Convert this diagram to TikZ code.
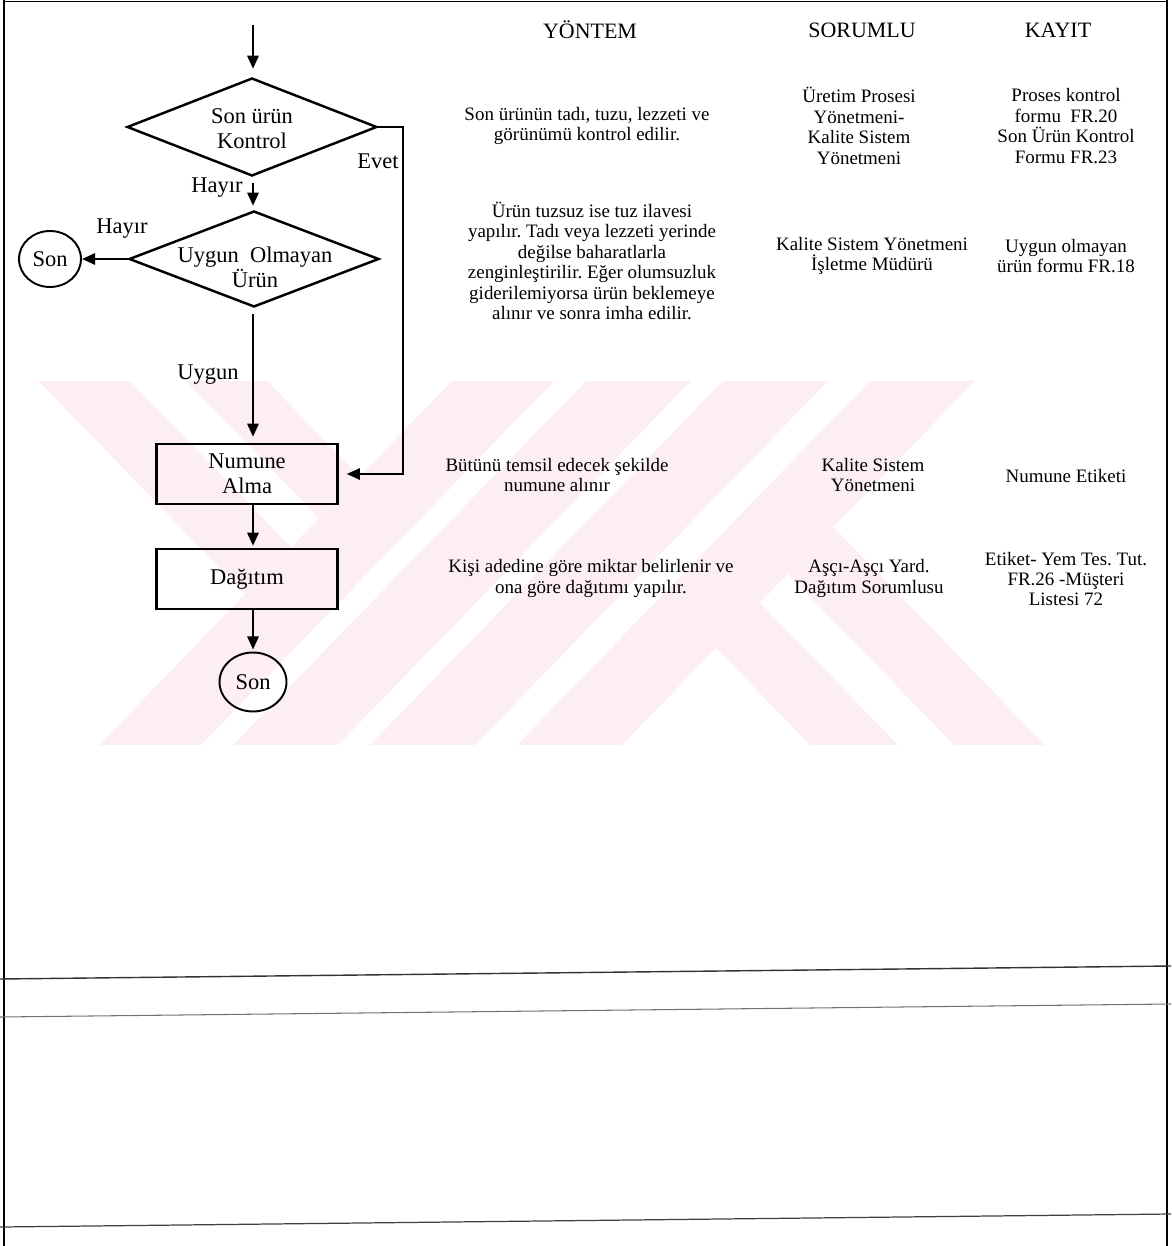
\documentclass[tikz,border=0pt]{standalone}
\usepackage{fontspec}
\setmainfont{Liberation Serif}
\usetikzlibrary{arrows.meta,shapes.geometric,calc}
\definecolor{wm}{RGB}{253,238,241}
\frenchspacing
\begin{document}
\begin{tikzpicture}[x=0.02cm,y=-0.02cm,
  arr/.style={line width=1.4pt,-{Triangle[length=7.5pt,width=6.4pt]}},
  dia/.style={diamond,draw,line width=1.4pt,inner sep=0pt},
  box/.style={rectangle,draw,line width=1.4pt,minimum width=3.62cm,minimum height=1.2cm,inner sep=0pt,align=center,font=\fontsize{12.8}{14.2}\selectfont},
  term/.style={ellipse,draw,line width=1.1pt,inner sep=0pt,font=\fontsize{12.8}{14.2}\selectfont},
  ftext/.style={inner sep=0pt,align=center,font=\fontsize{12.8}{14.2}\selectfont},
  head/.style={inner sep=0pt,font=\fontsize{12.5}{14}\selectfont},
  body/.style={inner sep=0pt,align=center,font=\fontsize{10.8}{11.65}\selectfont},
  borderline/.style={line width=0.7pt},
]
\useasboundingbox (0,0) rectangle (1171,1246);

% watermark
\fill[wm] (452,381) -- (554,381) -- (201,745) -- (99,745) -- cycle;
\fill[wm] (586,381) -- (691,381) -- (338,745) -- (233,745) -- cycle;
\fill[wm] (723,381) -- (828,381) -- (475,745) -- (370,745) -- cycle;
\fill[wm] (870,381) -- (975,381) -- (622,745) -- (517,745) -- cycle;
\fill[wm] (38.6,381) -- (130,381) -- (291,547) -- (245,594) -- cycle;
\fill[wm] (186,381) -- (267,381) -- (359.5,476) -- (319,518) -- cycle;
\fill[wm] (810,745) -- (898,745) -- (760,602.7) -- (716,648) -- cycle;
\fill[wm] (954,745) -- (1045,745) -- (833.5,527) -- (788,574) -- cycle;

% frame and rules
\draw[borderline] (4,0) -- (4,1246);
\draw[borderline] (1167,0) -- (1167,1246);
\draw[borderline] (4,1.5) -- (1167,1.5);
\draw[line width=0.8pt,black!80] (0,979) -- (1171,966);
\draw[line width=0.6pt,black!55] (0,1017) -- (1171,1004);
\draw[line width=0.7pt,black!75] (0,1227) -- (1171,1214);

% headers
\node[head] (hy) at (590,30) {YÖNTEM};
\node[head] (hs) at (862,30) {SORUMLU};
\node[head] (hk) at (1058,30) {KAYIT};

% flowchart
\coordinate (col) at (253,0);
\coordinate (start) at (253,25);
\node[dia,minimum width=5cm,minimum height=1.96cm] (d1) at (252,127) {};
\node[ftext] (t1) at (252,129) {Son ürün\\Kontrol};
\node[dia,minimum width=5cm,minimum height=1.92cm] (d2) at (254,259) {};
\node[ftext] (t2) at (255,267) {Uygun\ \ Olmayan\\Ürün};
\node[term,minimum width=1.24cm,minimum height=1.12cm] (son1) at (50,259) {Son};
\node[box] (numune) at (247,474) {Numune\\Alma};
\node[box] (dagitim) at (247,579) {Dağıtım};
\node[term,minimum width=1.34cm,minimum height=1.18cm] (son2) at (253,682) {Son};
\coordinate (evc) at (403,127);

\node[ftext] (evet) at (378,161) {Evet};
\node[ftext] (hayir1) at (217,188) {Hayır};
\node[ftext] (hayir2) at (122,229) {Hayır};
\node[ftext] (uygun) at (208,375) {Uygun};

\draw[arr,shorten >=0.16cm] (start) -- (start |- d1.north);
\draw[arr,shorten <=0.12cm,shorten >=0.08cm] (d1.south -| col) -- (d2.north -| col);
\draw[arr] (d2.west) -- (son1.east);
\draw[arr,shorten <=0.12cm,shorten >=0.12cm] (d2.south -| col) -- (numune.north -| col);
\draw[arr,shorten >=0.04cm] (numune.south -| col) -- (dagitim.north -| col);
\draw[arr,shorten >=0.04cm] (dagitim.south -| col) -- (son2.north);
\draw[line width=1.2pt,-{Triangle[length=7.5pt,width=6.4pt]},shorten >=0.16cm]
  (d1.east) -- (evc) -- (evc |- numune.east) -- (numune.east);

% YÖNTEM column
\node[body] (y1) at (587,126) {Son ürünün tadı, tuzu, lezzeti ve\\görünümü kontrol edilir.};
\node[body] (y2) at (592,261) {Ürün tuzsuz ise tuz ilavesi\\yapılır. Tadı veya lezzeti yerinde\\değilse baharatlarla\\zenginleştirilir. Eğer olumsuzluk\\giderilemiyorsa ürün beklemeye\\alınır ve sonra imha edilir.};
\node[body] (y3) at (557,475) {Bütünü temsil edecek şekilde\\numune alınır};
\node[body] (y4) at (591,578.5) {Kişi adedine göre miktar belirlenir ve\\ona göre dağıtımı yapılır.};

% SORUMLU column
\node[body] (s1) at (859,126) {Üretim Prosesi\\Yönetmeni-\\Kalite Sistem\\Yönetmeni};
\node[body] (s2) at (872,256) {Kalite Sistem Yönetmeni\\İşletme Müdürü};
\node[body] (s3) at (873,475) {Kalite Sistem\\Yönetmeni};
\node[body] (s4) at (869,578.5) {Aşçı-Aşçı Yard.\\Dağıtım Sorumlusu};

% KAYIT column
\node[body] (k1) at (1066,126) {Proses kontrol\\formu\ \ FR.20\\Son Ürün Kontrol\\Formu FR.23};
\node[body] (k2) at (1066,256) {Uygun olmayan\\ürün formu FR.18};
\node[body] (k3) at (1066,476) {Numune Etiketi};
\node[body] (k4) at (1066,579) {Etiket- Yem Tes. Tut.\\FR.26 -Müşteri\\Listesi 72};
\end{tikzpicture}
\end{document}
